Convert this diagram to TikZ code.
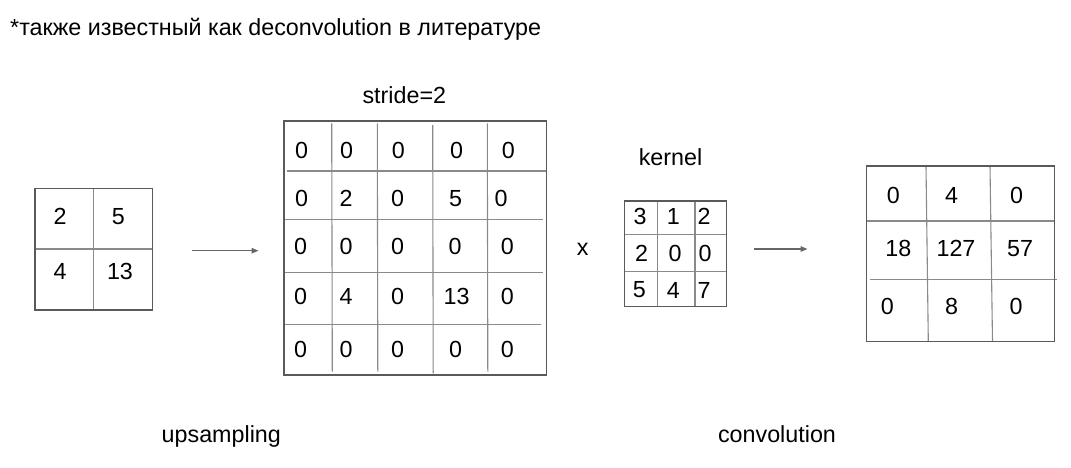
\documentclass[tikz,border=0pt]{standalone}
\usepackage{fontspec}
\setmainfont{Liberation Sans}
\usetikzlibrary{arrows.meta}
\definecolor{outerline}{HTML}{5A5A5A}
\definecolor{innerline}{HTML}{8A8A8A}
\definecolor{arrowgray}{HTML}{666666}
\tikzset{
  txt/.style={inner sep=0pt, font=\fontsize{23.3}{28}\selectfont, text=black},
  cell/.style={txt, anchor=center},
  lbl/.style={txt, anchor=base},
  border/.style={draw=outerline, line width=1.3pt},
  gridline/.style={draw=innerline, line width=1.1pt},
  flow/.style={draw=arrowgray, line width=1.2pt, -{Triangle[length=7pt,width=5.5pt]}},
}
\begin{document}
\begin{tikzpicture}[x=1pt,y=-1pt]
\useasboundingbox[fill=white] (0,0) rectangle (1071,467);

% header
\node[txt, anchor=base west] (note) at (10,35) {*также известный как deconvolution в литературе};

% ---------- grid 1 (input 2x2) ----------
\draw[gridline] (93.3,188.3) -- (93.3,310);
\draw[gridline] (35,249) -- (152.3,249);
\draw[border] (35,188.3) rectangle (152.3,310);
\node[cell] (a11) at (60,216.7) {2};
\node[cell] (a12) at (118.3,216.7) {5};
\node[cell] (a21) at (60,271.7) {4};
\node[cell] (a22) at (120,271.7) {13};
\node[lbl] (ups) at (221.3,442) {upsampling};

% arrow 1
\coordinate (ar1s) at (191.7,250.7);
\coordinate (ar1e) at (258.5,250.7);
\draw[flow] (ar1s) -- (ar1e);

% ---------- grid 2 (upsampled 5x5) ----------
\draw[gridline] (286.7,171) -- (546,171);
\draw[gridline] (284,219.3) -- (542.7,219.3);
\draw[gridline] (284,272.7) -- (542.7,272.7);
\draw[gridline] (282.7,324.3) -- (540.7,324.3);
\draw[gridline] (331.7,123.3) -- (332.3,371.7);
\draw[gridline] (377.3,123.3) -- (377.8,371.7);
\draw[gridline] (432.7,125) -- (433.2,373.3);
\draw[gridline] (487.3,123.3) -- (487.8,371.7);
\draw[border] (284,121) rectangle (546.7,375);
\node[lbl] (stride) at (404.3,103.3) {stride=2};

\node[cell] (b11) at (301.7,150) {0};
\node[cell] (b12) at (346.7,150) {0};
\node[cell] (b13) at (398.3,150) {0};
\node[cell] (b14) at (456.7,150) {0};
\node[cell] (b15) at (508.3,150) {0};

\node[cell] (b21) at (301.7,198.3) {0};
\node[cell] (b22) at (346,198.3) {2};
\node[cell] (b23) at (397.7,198.3) {0};
\node[cell] (b24) at (455.7,198.3) {5};
\node[cell] (b25) at (501,198.3) {0};

\node[cell] (b31) at (300.7,246) {0};
\node[cell] (b32) at (346,246) {0};
\node[cell] (b33) at (397.7,246) {0};
\node[cell] (b34) at (455,246) {0};
\node[cell] (b35) at (507.3,246) {0};

\node[cell] (b41) at (300.7,296) {0};
\node[cell] (b42) at (346,296) {4};
\node[cell] (b43) at (397.7,296) {0};
\node[cell] (b44) at (456.7,296) {13};
\node[cell] (b45) at (507.3,296) {0};

\node[cell] (b51) at (300.7,349.3) {0};
\node[cell] (b52) at (346,349.3) {0};
\node[cell] (b53) at (397.7,349.3) {0};
\node[cell] (b54) at (455.7,349.3) {0};
\node[cell] (b55) at (507.3,349.3) {0};

% times sign
\node[lbl] (times) at (582.7,255) {x};

% ---------- kernel 3x3 ----------
\node[lbl] (kern) at (670.5,165) {kernel};
\draw[gridline] (657.7,201) -- (657.7,306.7);
\draw[gridline] (695,201) -- (695,306.7);
\draw[gridline] (624.3,234.3) -- (726.7,234.3);
\draw[gridline] (624.3,271.7) -- (726.7,271.7);
\draw[border] (624.3,201) rectangle (726.7,306.7);
\node[cell] (k11) at (640,216.7) {3};
\node[cell] (k12) at (673.3,216.7) {1};
\node[cell] (k13) at (704,216.7) {2};
\node[cell] (k21) at (641.7,253.3) {2};
\node[cell] (k22) at (675,253.3) {0};
\node[cell] (k23) at (705,253.3) {0};
\node[cell] (k31) at (639.3,290) {5};
\node[cell] (k32) at (673.3,290) {4};
\node[cell] (k33) at (704,290) {7};

% arrow 2
\coordinate (ar2s) at (754.3,249);
\coordinate (ar2e) at (807.5,249);
\draw[flow] (ar2s) -- (ar2e);

% ---------- output 3x3 ----------
\draw[gridline] (926,166) -- (928.3,341.7);
\draw[gridline] (990,166) -- (992.5,341.7);
\draw[gridline] (866.7,221) -- (1054.3,221);
\draw[gridline] (870,279.3) -- (1056.7,279.3);
\draw[border] (866.7,166) rectangle (1054.3,341.7);
\node[cell] (c11) at (893.3,195) {0};
\node[cell] (c12) at (951.7,195) {4};
\node[cell] (c13) at (1016.7,195) {0};
\node[cell] (c21) at (898.3,248.3) {18};
\node[cell] (c22) at (956,248.3) {127};
\node[cell] (c23) at (1020,248.3) {57};
\node[cell] (c31) at (887.3,306.7) {0};
\node[cell] (c32) at (951.7,306.7) {8};
\node[cell] (c33) at (1016,306.7) {0};

\node[lbl] (conv) at (777,442) {convolution};
\end{tikzpicture}
\end{document}
